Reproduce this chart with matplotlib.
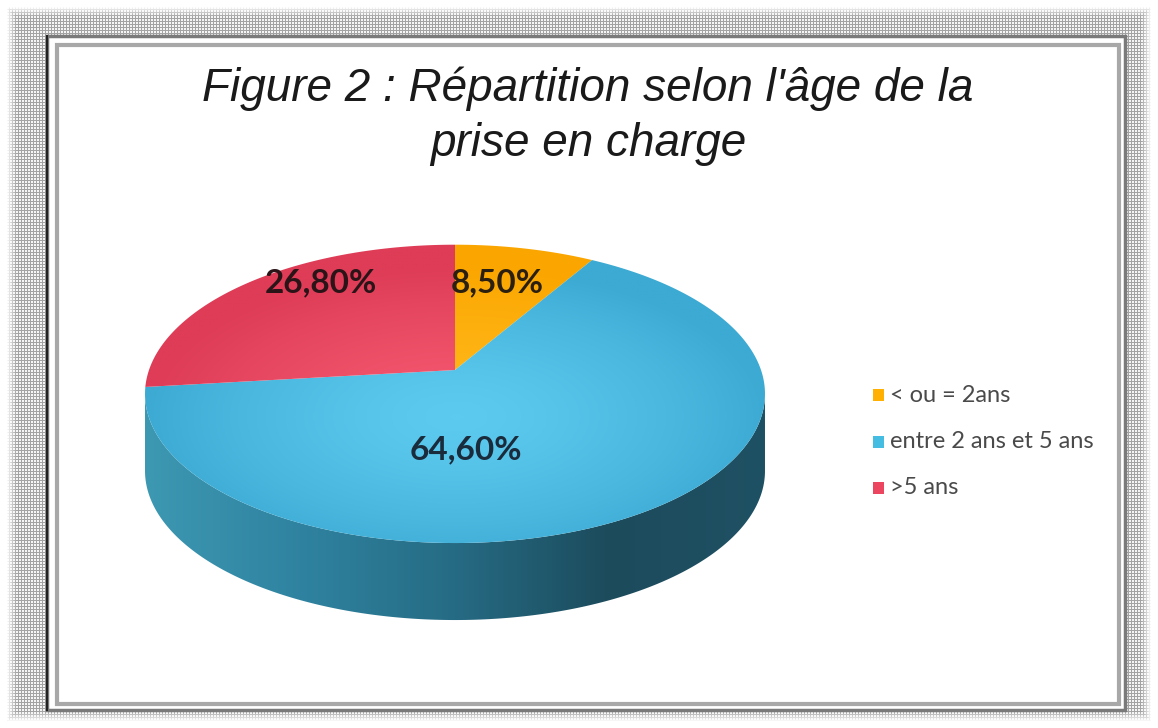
import numpy as np
import matplotlib.pyplot as plt
from matplotlib.patches import Polygon, Rectangle
from matplotlib.colors import LinearSegmentedColormap

# données
labels = ["< ou = 2ans", "entre 2 ans et 5 ans", ">5 ans"]
values = [8.5, 64.6, 26.8]
value_text = ["8,50%", "64,60%", "26,80%"]

top_light = ["#FFB81A", "#5CCAEE", "#F4586F"]
top_dark = ["#FBA600", "#3CAAD3", "#DE3C57"]
side_palette = [["#D98E00", "#A86C00"],
                ["#3D98B2", "#2F83A0", "#266B84", "#1C4B5C", "#1F5164"],
                ["#C03E57", "#A8344A"]]
legend_colors = ["#FFB000", "#45BCE2", "#EC4560"]

W, H = 1158, 728
fig = plt.figure(figsize=(W / 100, H / 100), dpi=100)
ax = fig.add_axes([0, 0, 1, 1])
ax.set_xlim(0, W)
ax.set_ylim(H, 0)
ax.axis("off")

# fond pointillé autour du cadre
yy, xx = np.mgrid[0:H, 0:W]
pattern = np.where((xx % 3 == 0) | (yy % 3 == 0), 0.64, 0.96)
edge = np.minimum.reduce([xx, yy, W - 1 - xx, H - 1 - yy])
fade = np.clip((edge - 6) / 10, 0, 1)
pattern = 1 - (1 - pattern) * fade
ax.imshow(pattern, cmap="gray", vmin=0, vmax=1, extent=[0, W, H, 0],
          interpolation="nearest", zorder=0)

# cadre
ax.add_patch(Rectangle((47, 36), 1078, 674, facecolor="white",
                       edgecolor="#7a7a7a", lw=2.5, zorder=1))
ax.plot([47, 47], [36, 710], color="#222222", lw=1.5, zorder=2)
ax.add_patch(Rectangle((57, 45), 1062, 659, facecolor="none",
                       edgecolor="#a8a8a8", lw=3, zorder=2))

# camembert 3D en perspective
cx, cy = 455, 370
R = 306
sin_phi = 0.475
cos_phi = np.sqrt(1 - sin_phi ** 2)
D = 5.5          # distance de la caméra (en rayons)
depth = 77       # épaisseur à l'écran (px)


def proj(theta):
    X = np.sin(theta)
    Z = np.cos(theta)
    s = D / (D + Z * cos_phi)
    return cx + R * X * s, cy - R * Z * sin_phi * s


frac = np.array(values) / np.sum(values)
bounds = np.concatenate([[0], np.cumsum(frac)]) * 2 * np.pi

# partie du flanc tournée vers l'observateur
tt = np.linspace(0, 2 * np.pi, 3601)
xa, ya = proj(tt)
front = tt[:-1][(np.diff(xa) < 0) & (np.cos(tt[:-1]) < 0.5)]
lo, hi = front.min(), front.max()

x_left, x_right = xa.min(), xa.max()
grad = np.linspace(0, 1, 256).reshape(1, -1)
for i in range(len(values)):
    t0 = max(bounds[i], lo)
    t1 = min(bounds[i + 1], hi)
    if t1 <= t0:
        continue
    t = np.linspace(t0, t1, 300)
    x_t, y_t = proj(t)
    pts = np.column_stack([np.concatenate([x_t, x_t[::-1]]),
                           np.concatenate([y_t, y_t[::-1] + depth])])
    poly = Polygon(pts, closed=True, facecolor="none", edgecolor="none", zorder=3)
    ax.add_patch(poly)
    cmap = LinearSegmentedColormap.from_list("side%d" % i, side_palette[i])
    im = ax.imshow(grad, cmap=cmap, extent=[x_left, x_right, 650, 300],
                   aspect="auto", zorder=3)
    im.set_clip_path(poly)

# dessus
ry, rx = np.mgrid[0:200, 0:200]
radial = np.hypot((rx - 100) / 100, (ry - 115) / 100)
radial = np.clip(radial, 0, 1) ** 1.5
ext = [xa.min(), xa.max(), ya.max(), ya.min()]
for i in range(len(values)):
    t = np.linspace(bounds[i], bounds[i + 1], 200)
    x, y = proj(t)
    pts = np.column_stack([np.concatenate([[cx], x]), np.concatenate([[cy], y])])
    poly = Polygon(pts, closed=True, facecolor="none", edgecolor="none", zorder=4)
    ax.add_patch(poly)
    cmap = LinearSegmentedColormap.from_list("top%d" % i, [top_light[i], top_dark[i]])
    im = ax.imshow(radial, cmap=cmap, vmin=0, vmax=1, extent=ext,
                   aspect="auto", zorder=4)
    im.set_clip_path(poly)

# étiquettes de valeurs
label_xy = [(497, 283), (466, 450), (321, 283)]
label_colors = ["#2B2010", "#1A2B3C", "#2A1418"]
for (lx, ly), txt, c in zip(label_xy, value_text, label_colors):
    ax.text(lx, ly, txt, ha="center", va="center", fontsize=24,
            fontweight="bold", family="Lato", color=c, zorder=6)

# titre
ax.text(588, 116, "Figure 2 : Répartition selon l'âge de la\nprise en charge",
        ha="center", va="center", fontsize=33, style="italic",
        family="Liberation Sans", color="#1a1a1a", linespacing=1.32, zorder=6)

# légende
for k, (lab, c) in enumerate(zip(labels, legend_colors)):
    ly = 395 + k * 46.5
    ax.add_patch(Rectangle((873, ly - 6), 11, 12, facecolor=c,
                           edgecolor="none", zorder=6))
    ax.text(890, ly, lab, ha="left", va="center", fontsize=17,
            family="Lato", color="#4a4a4a", zorder=6)

fig.savefig("out.png", dpi=100)
